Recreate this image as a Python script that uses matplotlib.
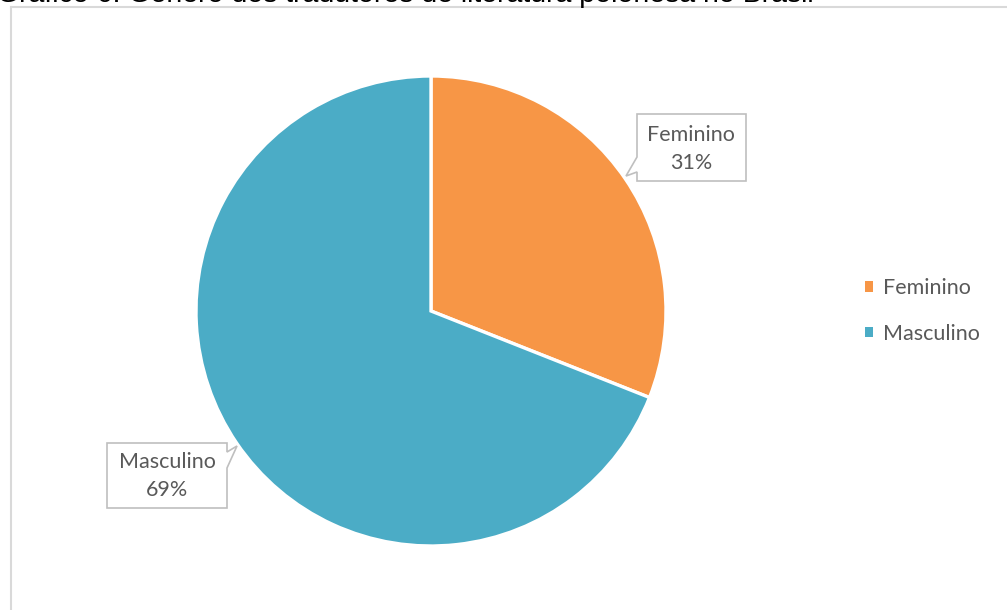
import matplotlib
matplotlib.use("Agg")
import matplotlib.pyplot as plt
from matplotlib.patches import Polygon
from matplotlib.lines import Line2D

# Data
categories = ["Feminino", "Masculino"]
values = [31, 69]
colors = ["#F79646", "#4BACC6"]
title = "Gráfico 6: Gênero dos tradutores de literatura polonesa no Brasil"

W, H = 1007, 610
fig = plt.figure(figsize=(W / 100, H / 100), dpi=100)
ax = fig.add_axes([0, 0, 1, 1])

def Y(py):
    return H - py

# Pie
wedges, _ = ax.pie(values, colors=colors, startangle=90, counterclock=False,
                   center=(431, Y(311)), radius=235, frame=True,
                   wedgeprops=dict(edgecolor="white", linewidth=2.4))
ax.set_xlim(0, W)
ax.set_ylim(0, H)
ax.set_aspect("auto")
ax.axis("off")

# Chart area border
ax.add_line(Line2D([10.5, 10.5], [Y(7), 0], color="#D9D9D9", lw=1.5))
ax.add_line(Line2D([10.5, W], [Y(7), Y(7)], color="#D9D9D9", lw=1.5))

# Title (cut off at the top edge, as in the reference)
ax.text(-3, Y(2.5), title, fontsize=20.5, family="Liberation Sans",
        color="black", va="baseline", ha="left")

label_font = "Lato"
txtcol = "#595959"
total = sum(values)

# Callout boxes
fem_poly = [(637, 114), (746, 114), (746, 181), (637, 181), (637, 172),
            (626, 176), (637, 157)]
mas_poly = [(107, 443), (227, 443), (227, 452), (237, 446), (227, 468),
            (227, 508), (107, 508)]
for poly, (cx, cy), cat, v in [(fem_poly, (691, 149), categories[0], values[0]),
                               (mas_poly, (167, 476), categories[1], values[1])]:
    ax.add_patch(Polygon([(x, Y(y)) for x, y in poly], closed=True,
                         facecolor="white", edgecolor="#BFBFBF", lw=1.2))
    ax.text(cx, Y(cy), f"{cat}\n{round(100 * v / total)}%", ha="center",
            va="center", fontsize=15.5, family=label_font, color=txtcol,
            linespacing=1.45)

# Legend
leg = ax.legend(wedges, categories, loc="center left",
                bbox_to_anchor=(854 / W, 1 - 311 / H), frameon=False,
                prop=dict(family=label_font, size=15.5), labelcolor=txtcol,
                handlelength=0.4, handleheight=0.4, handletextpad=0.45,
                labelspacing=1.18, borderpad=0, borderaxespad=0.5)
for h in leg.legend_handles:
    h.set_edgecolor("none")

fig.savefig("out.png", dpi=100)
